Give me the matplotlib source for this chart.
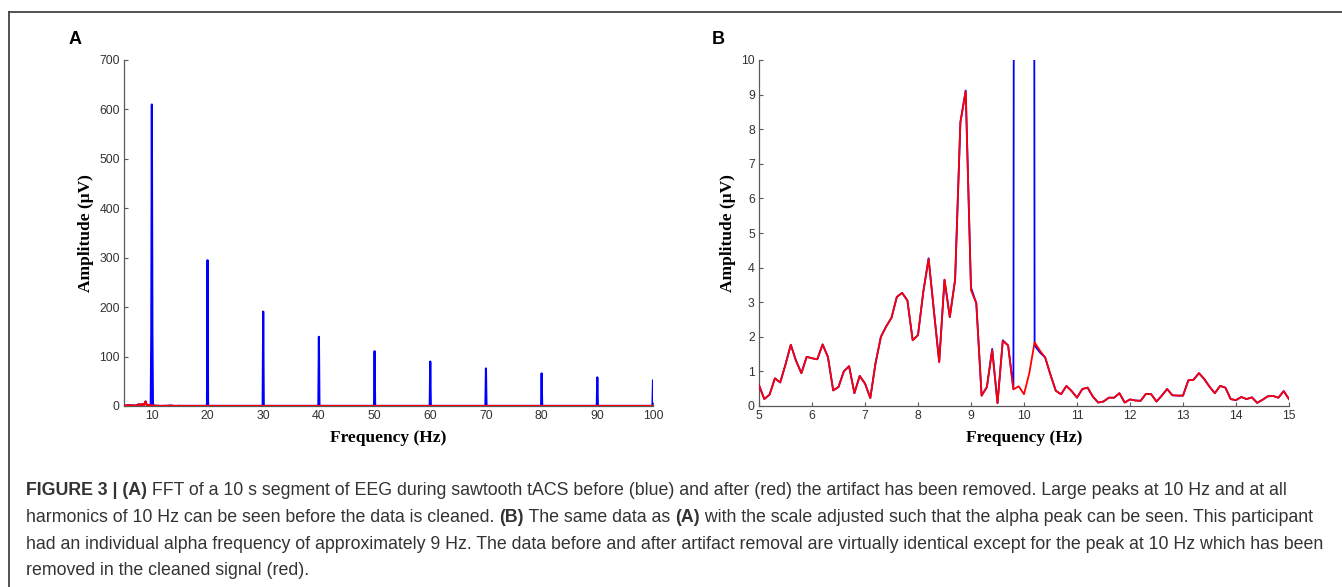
import numpy as np
import matplotlib.pyplot as plt
from matplotlib.lines import Line2D

# frequency grid of the zoomed band (0.1 Hz bins, 10 s segment)
freq_lo = np.round(np.arange(5.0, 15.05, 0.1), 1)

# cleaned signal (red), 5-15 Hz
red_lo = [0.60, 0.20, 0.33, 0.80, 0.68, 1.20, 1.77, 1.30, 0.95, 1.42,
          1.38, 1.35, 1.78, 1.42, 0.45, 0.55, 1.00, 1.15, 0.37, 0.87,
          0.65, 0.23, 1.25, 2.00, 2.30, 2.55, 3.15, 3.27, 3.05, 1.90,
          2.05, 3.30, 4.25, 2.75, 1.27, 3.65, 2.57, 3.65, 8.20, 9.10,
          3.35, 2.97, 0.30, 0.55, 1.62, 0.08, 1.88, 1.75, 0.48, 0.57,
          0.34, 0.95, 1.84, 1.60, 1.40, 0.90, 0.44, 0.34, 0.58, 0.43,
          0.24, 0.49, 0.53, 0.27, 0.10, 0.13, 0.24, 0.24, 0.37, 0.10,
          0.19, 0.16, 0.15, 0.35, 0.34, 0.13, 0.30, 0.49, 0.31, 0.30,
          0.30, 0.74, 0.76, 0.95, 0.78, 0.56, 0.37, 0.58, 0.53, 0.20,
          0.17, 0.26, 0.20, 0.25, 0.09, 0.18, 0.28, 0.29, 0.24, 0.43,
          0.20]

# raw signal (blue), 5-15 Hz
blue_lo = [0.60, 0.20, 0.33, 0.80, 0.68, 1.20, 1.77, 1.30, 0.95, 1.42,
           1.38, 1.35, 1.78, 1.42, 0.45, 0.55, 1.00, 1.15, 0.37, 0.87,
           0.65, 0.23, 1.25, 2.00, 2.30, 2.55, 3.15, 3.27, 3.05, 1.90,
           2.05, 3.30, 4.27, 2.75, 1.27, 3.65, 2.57, 3.65, 8.20, 9.12,
           3.42, 2.97, 0.30, 0.55, 1.65, 0.08, 1.90, 1.75, 0.50, 150.0,
           610.0, 150.0, 1.75, 1.55, 1.40, 0.90, 0.44, 0.34, 0.58, 0.43,
           0.24, 0.49, 0.53, 0.27, 0.10, 0.13, 0.24, 0.24, 0.37, 0.10,
           0.19, 0.16, 0.15, 0.35, 0.34, 0.13, 0.30, 0.49, 0.31, 0.30,
           0.30, 0.74, 0.76, 0.95, 0.78, 0.56, 0.37, 0.58, 0.53, 0.20,
           0.17, 0.26, 0.20, 0.25, 0.09, 0.18, 0.28, 0.29, 0.24, 0.43,
           0.20]

# harmonics of the sawtooth artifact above 15 Hz
harm_freq = [20, 30, 40, 50, 60, 70, 80, 90, 100]
harm_peak = [295, 191, 140, 111, 90, 76, 66, 58, 52]
base_level = 0.2

# full-range series for panel A
fa_blue = list(freq_lo)
va_blue = list(blue_lo)
for h, p in zip(harm_freq, harm_peak):
    fa_blue += [h - 0.1, h, h + 0.1]
    va_blue += [base_level, p, base_level]
fa_red = list(freq_lo) + [100.0]
va_red = list(red_lo) + [base_level]

fig = plt.figure(figsize=(13.42, 5.87), dpi=100)

tick_font = {'family': 'Liberation Sans', 'size': 8.8}
lab_font = {'family': 'Liberation Serif', 'weight': 'bold', 'size': 12.5}


def style_axes(ax):
    for s in ['top', 'right']:
        ax.spines[s].set_visible(False)
    for s in ['left', 'bottom']:
        ax.spines[s].set_color('#5a5a5a')
        ax.spines[s].set_linewidth(0.9)
    ax.tick_params(direction='in', length=3, width=0.8, colors='#5a5a5a',
                   labelcolor='#333333', pad=3)
    for lbl in ax.get_xticklabels() + ax.get_yticklabels():
        lbl.set_fontfamily(tick_font['family'])
        lbl.set_fontsize(tick_font['size'])
    ax.set_xlabel('Frequency (Hz)', labelpad=6, **lab_font)
    ax.set_ylabel('Amplitude (μV)', labelpad=4, **lab_font)


W, H = 1342, 587
axA = fig.add_axes([124 / W, 1 - 406 / H, 529 / W, 346 / H])
axA.plot(fa_blue, va_blue, color='blue', lw=1.5, zorder=3)
axA.plot(fa_red, va_red, color='red', lw=1.4, zorder=4)
axA.set_xlim(5, 100)
axA.set_ylim(0, 700)
axA.set_xticks(range(10, 101, 10))
axA.set_yticks(range(0, 701, 100))
style_axes(axA)

axB = fig.add_axes([759 / W, 1 - 406 / H, 530 / W, 346 / H])
axB.plot(freq_lo, blue_lo, color='blue', lw=1.3, zorder=3)
axB.plot(freq_lo, red_lo, color='red', lw=1.3, zorder=4)
axB.set_xlim(5, 15)
axB.set_ylim(0, 10)
axB.set_xticks(range(5, 16))
axB.set_yticks(range(0, 11))
style_axes(axB)

fig.text(75 / W, 1 - 40 / H, 'A', family='Liberation Sans', weight='bold',
         size=13, ha='center', va='center', color='black')
fig.text(718 / W, 1 - 40 / H, 'B', family='Liberation Sans', weight='bold',
         size=13, ha='center', va='center', color='black')

# frame lines of the figure box
fig.add_artist(Line2D([9 / W, 1], [1 - 11.5 / H, 1 - 11.5 / H],
                      color='#444444', lw=1.3, transform=fig.transFigure))
fig.add_artist(Line2D([9 / W, 9 / W], [1 - 11.5 / H, 0],
                      color='#444444', lw=1.3, transform=fig.transFigure))

# caption, mixing bold and regular pieces
caption = [
    [('FIGURE 3 | (A)', True), (' FFT of a 10 s segment of EEG during sawtooth tACS before (blue) and after (red) '
                                'the artifact has been removed. Large peaks at 10 Hz and at all', False)],
    [('harmonics of 10 Hz can be seen before the data is cleaned. ', False), ('(B)', True),
     (' The same data as ', False), ('(A)', True),
     (' with the scale adjusted such that the alpha peak can be seen. This participant', False)],
    [('had an individual alpha frequency of approximately 9 Hz. The data before and after artifact '
      'removal are virtually identical except for the peak at 10 Hz which has been', False)],
    [('removed in the cleaned signal (red).', False)],
]
line_y = [495, 522, 549, 575]

renderer = fig.canvas.get_renderer()
for pieces, yy in zip(caption, line_y):
    x = 26
    for txt, bold in pieces:
        t = fig.text(x / W, 1 - yy / H, txt, family='Liberation Sans',
                     weight='bold' if bold else 'normal', size=12.8,
                     color='#333333', ha='left', va='baseline')
        bb = t.get_window_extent(renderer=renderer)
        x += bb.width

fig.savefig('out.png', dpi=100)
